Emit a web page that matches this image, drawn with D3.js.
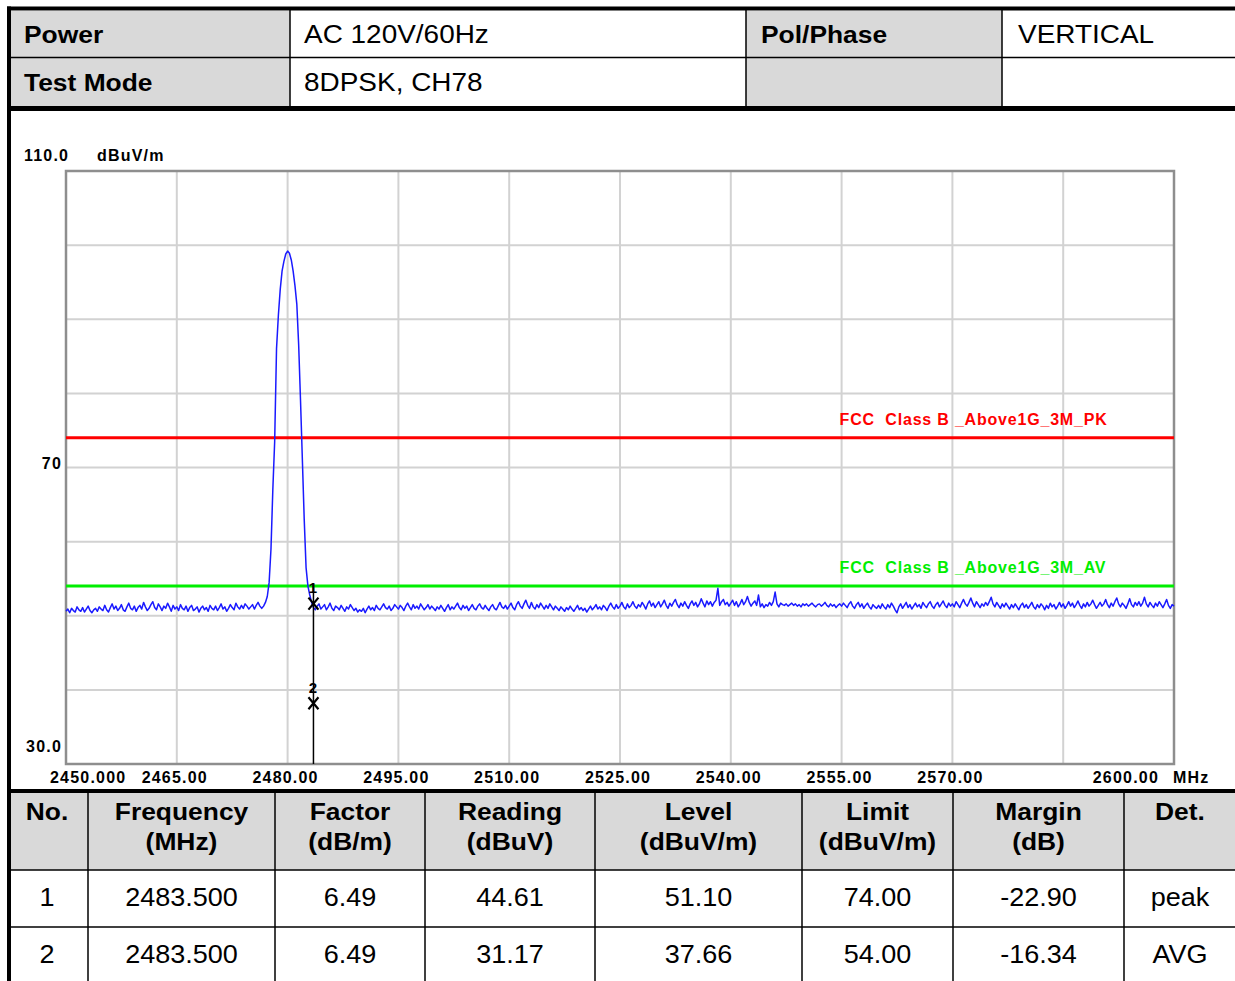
<!DOCTYPE html>
<html>
<head>
<meta charset="utf-8">
<script src="https://cdn.jsdelivr.net/npm/d3@7"></script>
<style>
  html, body { margin: 0; padding: 0; background: #ffffff; }
  svg { display: block; }
  .cell-bold { font-family: "Liberation Sans", Arial, sans-serif; font-weight: bold; font-size: 24px; fill: #000; }
  .cell-reg { font-family: "Liberation Sans", Arial, sans-serif; font-size: 26px; fill: #000; }
  .plot-txt { font-family: "Liberation Sans", Arial, sans-serif; font-weight: bold; font-size: 16px; letter-spacing: 1.2px; fill: #000; }
  .limit-txt { font-family: "Liberation Sans", Arial, sans-serif; font-weight: bold; font-size: 16px; letter-spacing: 0.8px; white-space: pre; }
  .mk-txt { font-family: "Liberation Sans", Arial, sans-serif; font-weight: bold; font-size: 15px; fill: #000; }
</style>
</head>
<body>
<svg id="page" width="1235" height="981"></svg>
<script>
// ---- Test setup ----
const infoLabels = ["Power", "Test Mode"];
const infoValues = ["AC 120V/60Hz", "8DPSK, CH78"];
const infoLabels2 = ["Pol/Phase", ""];
const infoValues2 = ["VERTICAL", ""];

// ---- Axis ----
const yDomain = [30, 110];
const yUnit = "dBuV/m";
const yTickLabels = [{ v: 110, t: "110.0" }, { v: 70, t: "70" }, { v: 30, t: "30.0" }];
const xDomain = [2450, 2600];
const xTickValues = [2450, 2465, 2480, 2495, 2510, 2525, 2540, 2555, 2570, 2600];
const xTickLabels = ["2450.000", "2465.00", "2480.00", "2495.00", "2510.00", "2525.00", "2540.00", "2555.00", "2570.00", "2600.00"];
const xUnit = "MHz";

// ---- Limit lines ----
const limitNames = ["FCC  Class B _Above1G_3M_PK", "FCC  Class B _Above1G_3M_AV"];
const limitValues = [74, 54];
const limitColors = ["#ff0000", "#00ee00"];

// ---- Sweep trace (dBuV/m), 0.25 MHz sweep points from 2450 MHz ----
const traceStartMHz = 2450;
const traceStepMHz = 0.25;
const traceLevels = [
  50.6,50.9,50.4,51.0,50.7,50.5,51.2,50.8,50.6,51.1,50.5,50.9,51.3,50.7,50.4,50.8,51.0,50.6,51.2,50.9,
  50.7,51.4,50.8,50.5,51.1,51.6,50.9,51.3,50.7,51.0,51.5,50.8,50.6,51.2,51.7,51.0,50.8,51.3,50.6,51.1,
  51.4,50.9,51.8,51.2,50.7,51.0,51.5,51.9,51.1,50.8,51.6,51.2,50.7,51.3,51.0,51.7,51.2,50.6,51.4,50.9,
  51.2,50.7,51.5,51.0,50.8,51.3,50.6,51.1,51.4,50.7,50.9,51.2,50.5,51.0,51.3,50.8,51.1,50.6,51.4,51.0,
  50.8,51.3,50.7,51.1,51.6,50.9,51.2,50.6,51.0,51.5,51.1,50.8,51.7,51.2,50.9,51.4,51.0,51.6,51.3,50.9,
  51.2,51.5,50.9,51.4,51.8,51.3,51.0,51.3,51.8,52.6,54.5,59.0,67.0,73.5,86.0,90.5,94.0,96.5,97.8,98.8,
  99.2,98.9,98.0,96.5,94.5,92.0,86.5,79.0,71.0,63.0,56.5,54.0,52.8,51.8,51.1,50.8,51.3,51.6,50.9,51.2,
  51.5,50.8,51.2,51.7,51.0,50.7,51.3,51.1,50.8,51.4,51.0,50.6,51.2,50.9,51.5,51.1,50.7,51.0,50.5,50.8,
  50.6,51.0,50.4,50.9,51.3,50.8,51.1,50.7,51.4,51.0,50.8,51.2,51.6,51.1,50.9,51.3,50.7,51.0,51.5,51.2,
  50.9,51.4,51.1,50.7,51.3,51.7,51.2,50.8,51.5,51.0,51.3,50.9,51.6,51.2,50.8,51.1,51.5,50.9,51.3,51.0,
  50.7,51.2,50.9,51.4,51.0,50.6,51.1,51.5,50.8,51.2,50.9,51.3,51.7,51.1,50.8,51.4,51.0,51.3,50.7,51.1,
  51.5,51.0,50.8,51.3,51.6,51.1,50.9,51.4,51.0,50.7,51.2,51.5,51.0,50.8,51.3,51.8,51.2,51.0,51.4,50.9,
  51.3,51.7,51.1,50.8,51.5,51.9,51.3,51.0,51.6,52.1,51.4,51.0,51.8,51.2,50.9,51.5,51.1,51.7,51.3,50.9,
  51.4,51.0,51.6,51.2,50.8,51.3,51.0,50.7,51.2,50.9,50.6,51.1,50.8,51.3,50.9,50.6,51.0,51.4,50.8,51.1,
  50.7,51.0,50.5,50.9,51.3,50.8,51.1,51.5,50.9,51.2,50.8,51.4,51.1,50.7,51.3,51.7,51.2,50.9,51.5,51.0,
  51.3,51.8,51.2,50.9,51.6,51.1,51.4,51.9,51.3,51.0,51.5,51.2,51.8,51.4,50.9,51.6,52.0,51.3,51.7,51.1,
  51.5,51.9,51.2,51.6,52.1,51.4,51.0,51.7,51.3,51.8,52.2,51.5,51.1,51.7,51.3,51.9,51.4,51.0,51.6,52.0,
  51.4,51.8,51.2,51.6,52.3,51.7,51.2,52.0,51.5,51.9,51.3,51.8,52.1,53.7,51.4,51.9,52.2,51.5,51.8,51.3,
  51.7,52.1,51.4,51.9,51.2,51.6,52.2,51.5,51.9,52.6,51.8,51.3,51.7,52.0,51.4,52.8,51.2,51.6,51.1,51.5,
  51.3,51.8,51.4,51.9,53.2,51.6,51.2,51.7,51.5,51.4,51.6,51.3,51.5,51.7,51.4,51.6,51.3,51.5,51.2,51.6,
  51.4,51.6,51.3,51.5,51.7,51.4,51.2,51.5,51.6,51.3,51.5,51.8,51.4,51.2,51.6,51.3,51.5,51.1,51.4,51.6,
  51.3,51.7,51.4,51.1,51.6,51.9,51.3,51.0,51.5,51.8,51.2,51.6,51.0,51.4,51.7,51.2,50.9,51.5,51.2,51.0,
  51.4,51.0,51.6,51.2,50.9,51.5,51.1,51.7,51.3,50.8,50.4,51.2,51.6,51.0,51.4,51.8,51.1,51.5,50.9,51.3,
  51.7,51.2,51.5,51.0,51.8,51.4,51.1,51.6,51.9,51.3,51.0,51.5,51.8,51.2,51.6,52.0,51.4,51.1,51.7,51.3,
  51.6,51.2,51.9,51.5,51.1,51.7,52.2,51.6,51.3,51.8,52.4,51.7,51.2,51.9,51.5,51.1,51.6,51.3,51.8,51.4,
  51.9,52.5,51.6,51.2,51.8,51.4,51.0,51.6,51.2,51.7,51.3,50.9,51.5,51.1,51.6,51.2,50.8,51.4,51.7,51.1,
  51.5,51.0,51.4,51.8,51.2,50.9,51.5,51.1,51.6,51.3,50.8,51.4,51.0,51.7,51.2,51.5,50.9,51.3,51.8,51.2,
  51.6,51.0,51.4,51.9,51.3,51.7,51.1,51.5,52.0,51.4,51.0,51.6,51.2,51.8,51.3,51.6,52.1,51.5,51.0,51.4,
  51.8,51.3,51.6,52.2,51.5,51.1,51.7,51.3,51.9,52.4,51.6,51.2,51.7,51.4,51.0,51.6,52.3,51.5,51.2,51.8,
  51.4,51.9,51.3,51.7,52.5,51.6,51.2,51.8,51.4,51.1,51.7,51.3,51.9,51.5,51.1,51.6,52.2,51.4,51.0,51.5,
  51.3
];

// ---- Marker readings ----
const markerNo = ["1", "2"];
const markerFreq = [2483.5, 2483.5];
const markerFactor = [6.49, 6.49];
const markerReading = [44.61, 31.17];
const markerLevel = [51.10, 37.66];
const markerLimit = [74.00, 54.00];
const markerMargin = [-22.90, -16.34];
const markerDet = ["peak", "AVG"];

const tableHead1 = ["No.", "Frequency", "Factor", "Reading", "Level", "Limit", "Margin", "Det."];
const tableHead2 = ["", "(MHz)", "(dB/m)", "(dBuV)", "(dBuV/m)", "(dBuV/m)", "(dB)", ""];

// ================= drawing =================
const svg = d3.select("#page");
const W = 1235, H = 981;
const BOLD_CAP = 17, REG_CAP = 18.5;
const BOLD_SX = 1.1;

svg.append("rect").attr("width", W).attr("height", H).attr("fill", "#fff");

// text placed at (tx, ty) baseline, stretched horizontally by sx
function cellText(parent, cls, tx, ty, sx, anchor, str) {
  return parent.append("text").attr("class", cls)
    .attr("transform", `translate(${tx},${ty}) scale(${sx},1)`)
    .attr("text-anchor", anchor).text(str);
}

// ---------- top info table ----------
const infoG = svg.append("g");
const topCols = [11, 290, 746, 1002, 1240];
const topRowsY = [11, 58, 107];
const gray = "#d9d9d9";
[0, 2].forEach(c => {
  infoG.append("rect").attr("x", topCols[c]).attr("y", topRowsY[0])
    .attr("width", topCols[c + 1] - topCols[c]).attr("height", topRowsY[2] - topRowsY[0])
    .attr("fill", gray);
});
const infoGrid = [
  [infoLabels[0], infoValues[0], infoLabels2[0], infoValues2[0]],
  [infoLabels[1], infoValues[1], infoLabels2[1], infoValues2[1]]
];
const textInset = [13, 14, 15, 16];
infoGrid.forEach((row, r) => {
  const yc = (topRowsY[r] + topRowsY[r + 1]) / 2 - 0.5;
  row.forEach((txt, c) => {
    if (!txt) return;
    const bold = c % 2 === 0;
    cellText(infoG, bold ? "cell-bold" : "cell-reg", topCols[c] + textInset[c],
      yc + (bold ? BOLD_CAP : REG_CAP) / 2, bold ? BOLD_SX : 1.075, "start", txt);
  });
});
// rules
infoG.append("line").attr("x1", 11).attr("x2", W).attr("y1", 57.5).attr("y2", 57.5).attr("stroke", "#000").attr("stroke-width", 1.5);
[290, 746, 1002].forEach(xx => infoG.append("line").attr("x1", xx).attr("x2", xx).attr("y1", 10).attr("y2", 108).attr("stroke", "#000").attr("stroke-width", 1.5));
infoG.append("rect").attr("x", 7).attr("y", 6.5).attr("width", W - 7).attr("height", 4).attr("fill", "#000");
infoG.append("rect").attr("x", 7).attr("y", 106).attr("width", W - 7).attr("height", 5).attr("fill", "#000");

// ---------- plot ----------
const plot = { left: 66, right: 1174, top: 171, bottom: 764 };
const x = d3.scaleLinear().domain(xDomain).range([plot.left, plot.right]);
const y = d3.scaleLinear().domain(yDomain).range([plot.bottom, plot.top]);

const g = svg.append("g");
// grid
const gridColor = "#d2d2d2";
g.append("g").selectAll("line").data(d3.range(xDomain[0], xDomain[1] + 0.1, 15)).join("line")
  .attr("x1", d => x(d)).attr("x2", d => x(d)).attr("y1", plot.top).attr("y2", plot.bottom)
  .attr("stroke", gridColor).attr("stroke-width", 2);
g.append("g").selectAll("line").data(d3.range(yDomain[0], yDomain[1] + 0.1, 10)).join("line")
  .attr("x1", plot.left).attr("x2", plot.right).attr("y1", d => y(d)).attr("y2", d => y(d))
  .attr("stroke", gridColor).attr("stroke-width", 2);
// frame
g.append("rect").attr("x", plot.left).attr("y", plot.top)
  .attr("width", plot.right - plot.left).attr("height", plot.bottom - plot.top)
  .attr("fill", "none").attr("stroke", "#8e8e8e").attr("stroke-width", 2.5);

// limit lines
limitValues.forEach((v, i) => {
  g.append("line").attr("x1", plot.left).attr("x2", plot.right)
    .attr("y1", y(v)).attr("y2", y(v)).attr("stroke", limitColors[i]).attr("stroke-width", 3);
  g.append("text").attr("class", "limit-txt").attr("fill", limitColors[i])
    .attr("xml:space", "preserve")
    .attr("x", x(2555) - 2).attr("y", y(v) - 13).text(limitNames[i]);
});

// trace
const traceFreq = traceLevels.map((_, i) => traceStartMHz + i * traceStepMHz);
const line = d3.line().x((d, i) => x(traceFreq[i])).y(d => y(d));
g.append("path").datum(traceLevels).attr("d", line)
  .attr("fill", "none").attr("stroke", "#1a1aff").attr("stroke-width", 1.5)
  .attr("stroke-linejoin", "round");

// markers: vertical cursor, cross symbol and number
const mx = x(markerFreq[0]);
g.append("line").attr("x1", mx).attr("x2", mx)
  .attr("y1", y(d3.max(markerLevel)) - 24).attr("y2", plot.bottom)
  .attr("stroke", "#000").attr("stroke-width", 1.5);
markerLevel.forEach((lv, i) => {
  const px = x(markerFreq[i]), py = y(lv);
  g.append("path")
    .attr("d", `M${px - 5},${py - 10}L${px + 5},${py + 2}M${px + 5},${py - 10}L${px - 5},${py + 2}`)
    .attr("stroke", "#000").attr("stroke-width", 2.2).attr("fill", "none");
  g.append("text").attr("class", "mk-txt").attr("text-anchor", "middle")
    .attr("x", px - 0.5).attr("y", py - 14.5).text(markerNo[i]);
});

// axis labels
g.append("text").attr("class", "plot-txt").attr("x", 24).attr("y", y(110) - 10).text(yTickLabels[0].t);
g.append("text").attr("class", "plot-txt").attr("x", 97).attr("y", y(110) - 10).text(yUnit);
yTickLabels.slice(1).forEach(t => {
  g.append("text").attr("class", "plot-txt").attr("text-anchor", "end")
    .attr("x", plot.left - 4).attr("y", t.v === 30 ? y(t.v) - 12 : y(t.v) + 1.5).text(t.t);
});
xTickValues.forEach((v, i) => {
  const last = i === xTickValues.length - 1;
  const first = i === 0;
  g.append("text").attr("class", "plot-txt")
    .attr("text-anchor", first ? "start" : (last ? "end" : "middle"))
    .attr("x", first ? x(v) - 16 : (last ? x(v) - 15 : x(v) - 2))
    .attr("y", plot.bottom + 19).text(xTickLabels[i]);
});
g.append("text").attr("class", "plot-txt").attr("x", plot.right - 1).attr("y", plot.bottom + 19).text(xUnit);

// ---------- results table ----------
const bt = svg.append("g");
const bCols = [11, 88, 275, 425, 595, 802, 953, 1124, 1240];
const headLineY = [811, 841];
const rowCenterY = [897, 954];
bt.append("rect").attr("x", 11).attr("y", 793).attr("width", W - 11).attr("height", 77).attr("fill", gray);
const fmt2 = d3.format(".2f"), fmt3 = d3.format(".3f");
const bodyRows = markerNo.map((n, i) => [
  n, fmt3(markerFreq[i]), fmt2(markerFactor[i]), fmt2(markerReading[i]),
  fmt2(markerLevel[i]), fmt2(markerLimit[i]), fmt2(markerMargin[i]).replace("−", "-"), markerDet[i]
]);
const colCenter = c => c === 7 ? 1180 : (c === 0 ? 47 : (bCols[c] + bCols[c + 1]) / 2);
tableHead1.forEach((t, c) => {
  cellText(bt, "cell-bold", colCenter(c), headLineY[0] + BOLD_CAP / 2, BOLD_SX, "middle", t);
  if (tableHead2[c]) cellText(bt, "cell-bold", colCenter(c), headLineY[1] + BOLD_CAP / 2, BOLD_SX, "middle", tableHead2[c]);
});
bodyRows.forEach((row, r) => {
  row.forEach((t, c) => {
    cellText(bt, "cell-reg", colCenter(c), rowCenterY[r] + REG_CAP / 2, 1.04, "middle", t);
  });
});
[870, 927].forEach(yy => bt.append("line").attr("x1", 11).attr("x2", W).attr("y1", yy).attr("y2", yy).attr("stroke", "#000").attr("stroke-width", 1.5));
bCols.slice(1, 8).forEach(xx => bt.append("line").attr("x1", xx).attr("x2", xx).attr("y1", 792).attr("y2", H).attr("stroke", "#000").attr("stroke-width", 1.5));
bt.append("rect").attr("x", 7).attr("y", 789).attr("width", W - 7).attr("height", 4).attr("fill", "#000");

// left page border
svg.append("rect").attr("x", 7).attr("y", 6.5).attr("width", 4).attr("height", H).attr("fill", "#000");
</script>
</body>
</html>
